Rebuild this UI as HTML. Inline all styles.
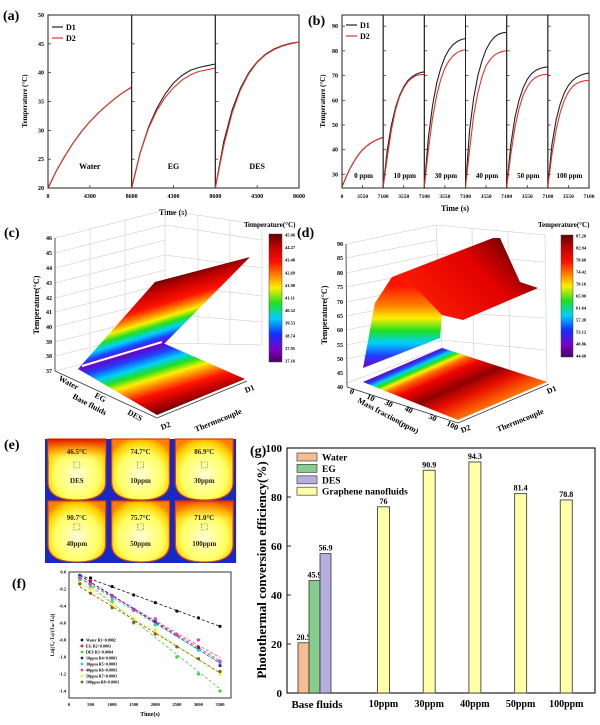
<!DOCTYPE html>
<html><head><meta charset="utf-8">
<style>
html,body{margin:0;padding:0;background:#fff;}
svg{display:block;font-family:"Liberation Serif",serif;font-weight:bold;}
</style></head>
<body>
<svg id="fig" width="600" height="725" viewBox="0 0 600 725" xmlns="http://www.w3.org/2000/svg">
<defs>
<linearGradient id="jet" x1="0" y1="1" x2="0" y2="0">
<stop offset="0" stop-color="#4a0060"/><stop offset="0.1" stop-color="#7a00c8"/><stop offset="0.22" stop-color="#1030ff"/>
<stop offset="0.34" stop-color="#00d0ff"/><stop offset="0.46" stop-color="#20e020"/><stop offset="0.58" stop-color="#ffee00"/>
<stop offset="0.68" stop-color="#ff8000"/><stop offset="0.78" stop-color="#ff1000"/><stop offset="0.9" stop-color="#c00000"/><stop offset="1" stop-color="#600000"/>
</linearGradient>
<linearGradient id="surfC" gradientUnits="userSpaceOnUse" x1="122" y1="356" x2="104" y2="297">
<stop offset="0" stop-color="#7a00c8"/><stop offset="0.1" stop-color="#2040ff"/><stop offset="0.2" stop-color="#00d0ff"/>
<stop offset="0.3" stop-color="#20e020"/><stop offset="0.4" stop-color="#ffee00"/><stop offset="0.5" stop-color="#ff8000"/>
<stop offset="0.62" stop-color="#ff1000"/><stop offset="0.85" stop-color="#c00000"/><stop offset="1" stop-color="#6a0000"/>
</linearGradient>
<linearGradient id="floorC" gradientUnits="userSpaceOnUse" x1="120" y1="356" x2="139" y2="420">
<stop offset="0" stop-color="#6a00c0"/><stop offset="0.12" stop-color="#2040ff"/><stop offset="0.25" stop-color="#00d0ff"/>
<stop offset="0.36" stop-color="#20e020"/><stop offset="0.47" stop-color="#ffee00"/><stop offset="0.58" stop-color="#ff8000"/>
<stop offset="0.7" stop-color="#ff1000"/><stop offset="0.88" stop-color="#b00000"/><stop offset="1" stop-color="#6a0000"/>
</linearGradient>
<linearGradient id="riseD" gradientUnits="userSpaceOnUse" x1="0" y1="368" x2="0" y2="285">
<stop offset="0" stop-color="#7a00c8"/><stop offset="0.15" stop-color="#2040ff"/><stop offset="0.3" stop-color="#00d0ff"/>
<stop offset="0.45" stop-color="#20e020"/><stop offset="0.6" stop-color="#ffee00"/><stop offset="0.75" stop-color="#ff8000"/><stop offset="1" stop-color="#ff1000"/>
</linearGradient>
<linearGradient id="plateauD" gradientUnits="userSpaceOnUse" x1="420" y1="320" x2="500" y2="240">
<stop offset="0" stop-color="#ff2000"/><stop offset="0.7" stop-color="#e00000"/><stop offset="1" stop-color="#800000"/>
</linearGradient>
<linearGradient id="floorD" gradientUnits="userSpaceOnUse" x1="402" y1="365" x2="431" y2="431">
<stop offset="0" stop-color="#6a00c0"/><stop offset="0.05" stop-color="#2040ff"/><stop offset="0.1" stop-color="#00d0ff"/>
<stop offset="0.15" stop-color="#20e020"/><stop offset="0.2" stop-color="#ffee00"/><stop offset="0.27" stop-color="#ff6000"/>
<stop offset="0.38" stop-color="#f00000"/><stop offset="0.58" stop-color="#900000"/><stop offset="0.76" stop-color="#e81000"/><stop offset="1" stop-color="#ff7000"/>
</linearGradient>
<radialGradient id="cup" cx="0.5" cy="0.6" r="0.65">
<stop offset="0" stop-color="#ffffd8"/><stop offset="0.6" stop-color="#ffff60"/><stop offset="0.85" stop-color="#ffd000"/><stop offset="1" stop-color="#ff8000"/>
</radialGradient>
<linearGradient id="cupHot" x1="0" y1="0" x2="0" y2="1">
<stop offset="0" stop-color="#e01000"/><stop offset="0.35" stop-color="#ffa000" stop-opacity="0.6"/><stop offset="0.6" stop-color="#ffff80" stop-opacity="0"/>
</linearGradient>
</defs>
<g id="panelA"></g>
<g id="panelB"></g>

<!-- Panel C -->
<g id="panelC">
<text x="4" y="237" font-size="14">(c)</text>
<g stroke="#ccc" stroke-width="0.6" fill="none">
<path d="M55,238 L165,210 L165,343 L55,371 Z"/>
<path d="M165,210 L262,225 L262,345 L165,343"/>
<path d="M55,253 L165,225 M55,268 L165,240 M55,283 L165,255 M55,298 L165,270 M55,312 L165,284 M55,327 L165,299 M55,342 L165,314 M55,356 L165,329"/>
<path d="M165,225 L262,240 M165,255 L262,268 M165,284 L262,296 M165,314 L262,322 M198,215 L198,343 M230,220 L230,344"/>
<path d="M90,229 L90,362 M125,220 L125,353"/>
</g>
<line x1="55" y1="238" x2="55" y2="371" stroke="#333" stroke-width="0.8"/>
<g font-size="6" text-anchor="end">
<text x="52" y="240">46</text><text x="52" y="255">45</text><text x="52" y="270">44</text><text x="52" y="285">43</text><text x="52" y="300">42</text><text x="52" y="314">41</text><text x="52" y="329">40</text><text x="52" y="344">39</text><text x="52" y="358">38</text><text x="52" y="373">37</text>
</g>
<text transform="translate(39,305) rotate(-90)" font-size="8" text-anchor="middle">Temperature(°C)</text>
<polygon points="78,369 163,343 245,379 157,415" fill="url(#floorC)"/>
<polygon points="78,369 155,282 250,257 165,343" fill="url(#surfC)"/>
<line x1="82" y1="366" x2="162" y2="342" stroke="#fff" stroke-width="2"/>
<path d="M55,371 L157,418 L247,381" stroke="#333" stroke-width="0.8" fill="none"/>
<g font-size="8">
<text transform="translate(58,380) rotate(28)">Water</text>
<text transform="translate(94,397) rotate(28)">EG</text>
<text transform="translate(127,414) rotate(28)">DES</text>
<text transform="translate(72,398) rotate(28)" font-size="8">Base fluids</text>
<text transform="translate(162,430) rotate(-22)">D2</text>
<text transform="translate(246,393) rotate(-22)">D1</text>
<text transform="translate(196,432) rotate(-22)">Thermocouple</text>
</g>
<rect x="269" y="234" width="13" height="128" fill="url(#jet)" stroke="#444" stroke-width="0.5"/>
<text x="244" y="227" font-size="7">Temperature(°C)</text>
<g id="cbC" font-size="4.5"></g>
</g>

<!-- Panel D -->
<g id="panelD">
<text x="297" y="237" font-size="14">(d)</text>
<g stroke="#ccc" stroke-width="0.6" fill="none">
<path d="M346,244 L436,225 L442,348 L347,383 Z"/>
<path d="M436,225 L545,235 L547,382 L442,348"/>
<path d="M346,258 L437,240 M346,273 L437,254 M346,287 L438,269 M346,302 L439,284 M346,316 L439,298 M346,330 L440,312 M346,345 L441,327 M346,359 L441,341"/>
<path d="M437,254 L545,262 M438,284 L546,290 M439,312 L546,318 M440,340 L546,350 M472,228 L474,360 M508,231 L510,370"/>
</g>
<line x1="346" y1="244" x2="347" y2="387" stroke="#333" stroke-width="0.8"/>
<g font-size="6" text-anchor="end">
<text x="343" y="246">90</text><text x="343" y="260">85</text><text x="343" y="275">80</text><text x="343" y="289">75</text><text x="343" y="304">70</text><text x="343" y="318">65</text><text x="343" y="332">60</text><text x="343" y="347">55</text><text x="343" y="361">50</text><text x="343" y="375">45</text><text x="343" y="389">40</text>
</g>
<text transform="translate(327,315) rotate(-90)" font-size="8" text-anchor="middle">Temperature(°C)</text>
<polygon points="363,382 442,348 547,382 458,420" fill="url(#floorD)"/>
<polygon points="392,277 493,238 500,238 520,282 538,288 463,320 442,315" fill="url(#plateauD)"/>
<polygon points="363,368 375,303 392,277 420,292 442,315 440,338" fill="url(#riseD)"/>
<path d="M347,387 L458,423 L549,384" stroke="#333" stroke-width="0.8" fill="none"/>
<g font-size="8">
<text transform="translate(349,393) rotate(28)">0</text>
<text transform="translate(366,398) rotate(28)">10</text>
<text transform="translate(384,404) rotate(28)">30</text>
<text transform="translate(404,410) rotate(28)">40</text>
<text transform="translate(428,418) rotate(28)">50</text>
<text transform="translate(446,425) rotate(28)">100</text>
<text transform="translate(357,402) rotate(28)">Mass fraction(ppm)</text>
<text transform="translate(462,433) rotate(-22)">D2</text>
<text transform="translate(548,394) rotate(-22)">D1</text>
<text transform="translate(498,432) rotate(-22)">Thermocouple</text>
</g>
<rect x="561" y="235" width="12" height="122" fill="url(#jet)" stroke="#444" stroke-width="0.5"/>
<text x="538" y="227" font-size="7">Temperature(°C)</text>
<g id="cbD" font-size="4.5"></g>
</g>

<!-- Panel E -->
<g id="panelE">
<text x="4" y="449" font-size="14">(e)</text>
</g>
<g id="panelF"></g>
<g id="panelG"></g>
</svg>
<script>
const NS="http://www.w3.org/2000/svg";
function mk(parent,tag,attrs,text){const e=document.createElementNS(NS,tag);for(const k in attrs)e.setAttribute(k,attrs[k]);if(text!==undefined)e.textContent=text;parent.appendChild(e);return e;}

/* ---------- Panel (a) data ---------- */
const aPanels=["Water","EG","DES"];
const aTicks=["0","4300","8600"];
const aYTicks=[20,25,30,35,40,45,50];
const aD1=[[20,23,25.5,27.8,29.8,31.5,33,34.3,35.5,36.6,37.5],[20,26,30.5,33.8,36.3,38.2,39.5,40.4,40.9,41.2,41.5],[20,28,33.5,37.3,40,41.9,43.2,44.1,44.7,45.1,45.3]];
const aD2=[[20,23,25.5,27.8,29.8,31.5,33,34.3,35.5,36.6,37.5],[20,26,30.3,33.4,35.7,37.4,38.7,39.6,40.2,40.5,40.8],[20,27.3,33,37,39.8,41.8,43.1,44,44.6,45,45.3]];
/* ---------- Panel (b) data ---------- */
const bPanels=["0 ppm","10 ppm","30 ppm","40 ppm","50 ppm","100 ppm"];
const bTicks=["0","3550","7100"];
const bYTicks=[30,40,50,60,70,80,90];
const bD1=[[25,29,32.5,35.5,38,40,41.5,42.7,43.6,44.4,45],[25,40,50,57,62,65.5,68,69.5,70.5,71.2,71.5],[25,45,58,67,73,77.5,80.5,82.5,83.8,84.6,85],[25,48,61,70,76,80.5,83.5,85.5,86.7,87.3,87.5],[25,42,53,60,65,68.5,70.7,72,72.8,73.3,73.5],[25,42,52,58.5,63,66,68,69.3,70.2,70.7,71]];
const bD2=[[25,29,32.5,35.5,38,40,41.5,42.7,43.6,44.4,45],[25,37,48,56,61.5,65,67.5,69,70,70.4,70.5],[25,40,53,62,68.5,73,76,78,79.4,80.1,80.5],[25,40,54,63,69.5,74,76.5,78.2,79.2,79.8,80],[25,38,49,56.5,62,65.5,67.8,69.2,70,70.4,70.5],[25,38,48,55,60,63.3,65.5,66.8,67.5,67.9,68]];
/* ---------- Colorbars ---------- */
const cbCLabels=["45.06","44.27","43.48","42.69","41.90","41.11","40.32","39.53","38.74","37.95","37.16"];
const cbDLabels=["87.20","82.94","78.68","74.42","70.16","65.90","61.64","57.38","53.12","48.86","44.60"];
/* ---------- Panel (e) ---------- */
const eTemps=["46.5°C","74.7°C","86.9°C","90.7°C","75.7°C","71.0°C"];
const eNames=["DES","10ppm","30ppm","40ppm","50ppm","100ppm"];
/* ---------- Panel (f) data ---------- */
const fTimes=[250,500,1000,1500,2000,2500,3000,3500];
const fNames=["Water R1=0.0002","EG R2=0.0003","DES R3=0.0004","10ppm R4=0.0003","30ppm R5=0.0003","40ppm R6=0.0003","50ppm R7=0.0003","100ppm R8=0.0003"];
const fWater=[-0.05,-0.07,-0.17,-0.27,-0.36,-0.46,-0.54,-0.64];
const fEG=[-0.05,-0.10,-0.28,-0.44,-0.58,-0.74,-0.88,-1.05];
const fDES=[-0.10,-0.18,-0.35,-0.60,-0.62,-1.00,-1.20,-1.40];
const f10=[-0.04,-0.13,-0.28,-0.44,-0.58,-0.74,-0.90,-1.10];
const f30=[-0.06,-0.15,-0.32,-0.45,-0.62,-0.74,-0.92,-1.07];
const f40=[-0.07,-0.14,-0.29,-0.45,-0.55,-0.74,-0.80,-1.05];
const f50=[-0.12,-0.20,-0.38,-0.55,-0.68,-0.88,-1.02,-1.20];
const f100=[-0.14,-0.25,-0.42,-0.59,-0.73,-0.88,-1.02,-1.17];
const fXTicks=[0,500,1000,1500,2000,2500,3000,3500];
const fYTicks=[0,-0.2,-0.4,-0.6,-0.8,-1.0,-1.2,-1.4];
/* ---------- Panel (g) data ---------- */
const gBase=["Water","EG","DES"];
const gBaseVals=[20.5,45.9,56.9];
const gCats=["10ppm","30ppm","40ppm","50ppm","100ppm"];
const gVals=[76,90.9,94.3,81.4,78.8];
const gYTicks=[0,20,40,60,80,100];

/* ===== Panel A ===== */
(function(){
const g=document.getElementById('panelA');
const L=48,R=299,T=15,B=188,pw=(R-L)/3;
const y=v=>B-(v-20)/30*(B-T);
const x=(p,f)=>L+p*pw+f*pw;
mk(g,'text',{x:3,y:20,'font-size':14},'(a)');
for(let p=0;p<3;p++){
  const r=mk(g,'rect',{x:x(p,0),y:T,width:pw,height:B-T,fill:'none',stroke:'#222','stroke-width':1});
  
  
  [[aD1,'#222'],[aD2,'#e0342a']].forEach(([ser,c],si)=>{
    const d=ser[p].map((v,i)=>(i?'L':'M')+x(p,i/(ser[p].length-1)).toFixed(1)+','+y(v).toFixed(1)).join(' ');
    const pa=mk(g,'path',{d:d,fill:'none',stroke:c,'stroke-width':1.1});
    
    
  });
  const lb=mk(g,'text',{x:x(p,0.5),y:169,'font-size':8,'text-anchor':'middle'},aPanels[p]);
  
  
  aTicks.forEach((t,i)=>{
    if(p>0&&i==0)return;
    const tx=mk(g,'text',{x:x(p,i/2),y:198,'font-size':6,'text-anchor':'middle'},t);
    
    
    mk(g,'line',{x1:x(p,i/2),x2:x(p,i/2),y1:B,y2:B-3,stroke:'#222','stroke-width':0.7});
  });
  aYTicks.forEach(v=>{mk(g,'line',{x1:x(p,0),x2:x(p,0)+3,y1:y(v),y2:y(v),stroke:'#222','stroke-width':0.7});});
}
aYTicks.forEach(v=>{
  const t=mk(g,'text',{x:44,y:y(v)+2,'font-size':6,'text-anchor':'end'},String(v));
  
  
});
const yt=mk(g,'text',{transform:'translate(27,101) rotate(-90)','font-size':7,'text-anchor':'middle'},'Temperature (°C)');


const xt=mk(g,'text',{x:173,y:215,'font-size':8,'text-anchor':'middle'},'Time (s)');


[['D1','#222',27],['D2','#e0342a',38]].forEach(([n,c,yy])=>{
  mk(g,'line',{x1:52,x2:63,y1:yy,y2:yy,stroke:c,'stroke-width':1.2});
  const t=mk(g,'text',{x:66,y:yy+3,'font-size':8},n);
  
  
});
})();

/* ===== Panel B ===== */
(function(){
const g=document.getElementById('panelB');
const L=342,R=589,T=15,B=188,pw=(R-L)/6;
const y=v=>B-(v-24.5)/70*(B-T);
const x=(p,f)=>L+p*pw+f*pw;
mk(g,'text',{x:308,y:25,'font-size':14},'(b)');
for(let p=0;p<6;p++){
  const r=mk(g,'rect',{x:x(p,0),y:T,width:pw,height:B-T,fill:'none',stroke:'#222','stroke-width':1});
  
  
  [[bD1,'#222'],[bD2,'#e0342a']].forEach(([ser,c],si)=>{
    const d=ser[p].map((v,i)=>(i?'L':'M')+x(p,i/(ser[p].length-1)).toFixed(1)+','+y(v).toFixed(1)).join(' ');
    const pa=mk(g,'path',{d:d,fill:'none',stroke:c,'stroke-width':1.1});
    
    
  });
  const lb=mk(g,'text',{x:x(p,0.5)+1,y:178,'font-size':7,'text-anchor':'middle'},bPanels[p]);
  
  
  bTicks.forEach((t,i)=>{
    if(p>0&&i==0)return;
    const tx=mk(g,'text',{x:x(p,i/2),y:198,'font-size':5.5,'text-anchor':'middle'},t);
    
    
    mk(g,'line',{x1:x(p,i/2),x2:x(p,i/2),y1:B,y2:B-3,stroke:'#222','stroke-width':0.7});
  });
  bYTicks.forEach(v=>{mk(g,'line',{x1:x(p,0),x2:x(p,0)+3,y1:y(v),y2:y(v),stroke:'#222','stroke-width':0.7});});
}
bYTicks.forEach(v=>{
  const t=mk(g,'text',{x:338,y:y(v)+2,'font-size':6,'text-anchor':'end'},String(v));
  
  
});
const yt=mk(g,'text',{transform:'translate(325,101) rotate(-90)','font-size':7,'text-anchor':'middle'},'Temperature (°C)');


const xt=mk(g,'text',{x:455,y:211,'font-size':8,'text-anchor':'middle'},'Time (s)');


[['D1','#222',25],['D2','#e0342a',36]].forEach(([n,c,yy])=>{
  mk(g,'line',{x1:346,x2:357,y1:yy,y2:yy,stroke:c,'stroke-width':1.2});
  const t=mk(g,'text',{x:360,y:yy+3,'font-size':8},n);
  
  
});
})();

/* ===== Colorbar ticks ===== */
(function(){
function cb(id,labels,x,top,bot){
  const g=document.getElementById(id);
  labels.forEach((l,i)=>{
    const yy=top+i*(bot-top)/(labels.length-1);
    const t=mk(g,'text',{x:x,y:yy+1.5},l);
    
    
  });
}
cb('cbC',cbCLabels,285,235,361);
cb('cbD',cbDLabels,576,236,356);
})();

/* ===== Panel E ===== */
(function(){
const g=document.getElementById('panelE');
const X0=45,Y0=439,cw=63.7,ch=62;
const bg=mk(g,'rect',{x:X0,y:Y0,width:cw*3,height:ch*2,fill:'#1828c8'});


for(let i=0;i<6;i++){
  const c=i%3,r=Math.floor(i/3);
  const x=X0+c*cw,y=Y0+r*ch;
  const cell=mk(g,'g',{});
  
  
  mk(cell,'path',{d:`M${x+3},${y} L${x+cw-3},${y} L${x+cw-3},${y+ch-18} Q${x+cw-4},${y+ch-1} ${x+cw/2},${y+ch-1} Q${x+4},${y+ch-1} ${x+3},${y+ch-18} Z`,fill:'url(#cup)',stroke:'#e04000','stroke-width':1.2});
  if(i==0||i==5){mk(cell,'rect',{x:x+3,y:y,width:cw-6,height:ch*0.6,fill:'url(#cupHot)',opacity:i==0?1:0.6});}
  mk(cell,'rect',{x:x+cw/2-3,y:y+23,width:6,height:6,fill:'none',stroke:'#886020','stroke-width':0.6,'stroke-dasharray':'1.5,1'});
  const t1=mk(cell,'text',{x:x+cw/2,y:y+ (r?19:15),'font-size':7,'text-anchor':'middle',fill:'#332200'},eTemps[i]);
  
  
  const t2=mk(cell,'text',{x:x+cw/2,y:y+(r?45:44),'font-size':7,'text-anchor':'middle',fill:'#332200'},eNames[i]);
  
  
}
})();

/* ===== Panel F ===== */
(function(){
const g=document.getElementById('panelF');
const L=69,R=231,T=572,B=698;
const x=v=>L+(v/3500)*(220-L);
const y=v=>T+(-v/1.4)*(691-T);
mk(g,'text',{x:12,y:588,'font-size':14},'(f)');
const fr=mk(g,'rect',{x:L,y:T,width:R-L,height:B-T,fill:'none',stroke:'#333','stroke-width':1});


fXTicks.forEach(v=>{
  const t=mk(g,'text',{x:x(v),y:706,'font-size':4.5,'text-anchor':'middle'},String(v));
  
  
});
fYTicks.forEach(v=>{
  const t=mk(g,'text',{x:L-3,y:y(v)+1.5,'font-size':4.5,'text-anchor':'end'},v.toFixed(1));
  
  
});
const xt=mk(g,'text',{x:150,y:716,'font-size':6,'text-anchor':'middle'},'Time(s)');


const yt=mk(g,'text',{transform:'translate(54,635) rotate(-90)','font-size':5,'text-anchor':'middle'},'Ln[(T\u2080-T\u209B)/(T\u2098-T\u209B)]');


const series=[fWater,fEG,fDES,f10,f30,f40,f50,f100];
const cols=['#111','#e02020','#40d040','#20208a','#30c8d0','#d040d0','#f0f030','#806010'];
series.forEach((s,si)=>{
  const n=s.length;let sx=0,sy=0,sxx=0,sxy=0;
  for(let i=0;i<n;i++){sx+=fTimes[i];sy+=s[i];sxx+=fTimes[i]*fTimes[i];sxy+=fTimes[i]*s[i];}
  const m=(n*sxy-sx*sy)/(n*sxx-sx*sx),b=(sy-m*sx)/n;
  const ln=mk(g,'line',{x1:x(250),y1:y(m*250+b),x2:x(3500),y2:y(m*3500+b),stroke:cols[si],'stroke-width':0.8,'stroke-dasharray':'3,2'});
  
  
  s.forEach((v,i)=>{
    const c=mk(g,'circle',{cx:x(fTimes[i]),cy:y(v),r:1.6,fill:cols[si]});
    
    
  });
  const ly=640+si*6;
  mk(g,'circle',{cx:82,cy:ly,r:1.4,fill:cols[si]});
  const lt=mk(g,'text',{x:86,y:ly+1.5,'font-size':4},fNames[si]);
  
  
});
})();

/* ===== Panel G ===== */
(function(){
const g=document.getElementById('panelG');
const L=287,R=595,T=448,B=693;
const y=v=>B-v/100*(B-T);
mk(g,'text',{x:250,y:455,'font-size':14},'(g)');
const fr=mk(g,'rect',{x:L,y:T,width:R-L,height:B-T,fill:'none',stroke:'#222','stroke-width':1.2});


gYTicks.forEach(v=>{
  mk(g,'line',{x1:L,x2:L+4,y1:y(v),y2:y(v),stroke:'#222','stroke-width':1});
  const t=mk(g,'text',{x:L-5,y:y(v)+4,'font-size':11,'text-anchor':'end'},String(v));
  
  
});
const yt=mk(g,'text',{transform:'translate(266,570) rotate(-90)','font-size':13,'text-anchor':'middle'},'Photothermal conversion efficiency(%)');


const baseCols=['#f7bd92','#86cc8a','#b7aee0'];
const bw=11;
gBaseVals.forEach((v,i)=>{
  const bx=298+i*bw;
  const r=mk(g,'rect',{x:bx,y:y(v),width:bw,height:B-y(v),fill:baseCols[i],stroke:'#333','stroke-width':0.8});
  
  
  const t=mk(g,'text',{x:bx+bw/2,y:y(v)-3,'font-size':8,'text-anchor':'middle'},String(v));
  
  
});
const cx=i=>383.5+i*45.7;
gVals.forEach((v,i)=>{
  const r=mk(g,'rect',{x:cx(i)-6,y:y(v),width:12,height:B-y(v),fill:'#ffffa6',stroke:'#555','stroke-width':1});
  
  
  const t=mk(g,'text',{x:cx(i),y:y(v)-3,'font-size':8,'text-anchor':'middle'},String(v));
  
  
  const xl=mk(g,'text',{x:cx(i),y:707,'font-size':10,'text-anchor':'middle'},gCats[i]);
  
  
});
const bl=mk(g,'text',{x:317,y:708,'font-size':11,'text-anchor':'middle'},'Base fluids');


const legNames=['Water','EG','DES','Graphene nanofluids'];
const legCols=['#f7bd92','#86cc8a','#b7aee0','#ffffa6'];
legNames.forEach((n,i)=>{
  const yy=453+i*11.4;
  mk(g,'rect',{x:297,y:yy,width:20,height:8,fill:legCols[i],stroke:'#555','stroke-width':0.8});
  const t=mk(g,'text',{x:322,y:yy+7.5,'font-size':9.5},n);
  
  
});
})();
</script>
</body></html>
